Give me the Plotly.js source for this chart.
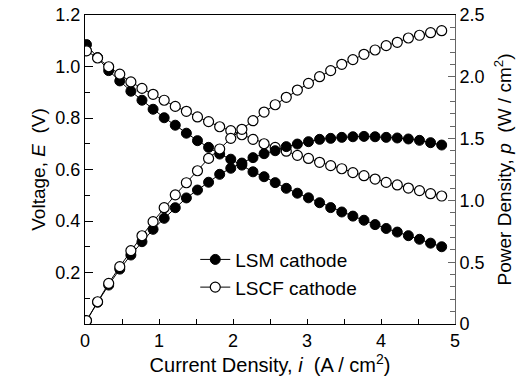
<!DOCTYPE html>
<html>
<head>
<meta charset="utf-8">
<script src="https://cdn.plot.ly/plotly-3.0.1.min.js"></script>
<style>html,body{margin:0;padding:0;background:#fff;}#chart{width:531px;height:384px;}</style>
</head>
<body>
<div id="chart"></div>
<script>
var current = [0.02,0.17,0.32,0.47,0.62,0.77,0.92,1.07,1.22,1.37,1.52,1.67,1.82,1.97,2.12,2.27,2.42,2.57,2.72,2.87,3.02,3.17,3.32,3.47,3.62,3.77,3.92,4.07,4.22,4.37,4.52,4.67,4.82];
var lsmVoltage = [1.085,1.035,0.984,0.944,0.904,0.869,0.834,0.801,0.772,0.741,0.712,0.686,0.660,0.640,0.617,0.591,0.572,0.549,0.527,0.508,0.490,0.471,0.452,0.435,0.419,0.403,0.386,0.371,0.357,0.343,0.329,0.314,0.300];
var lscfVoltage = [1.061,1.033,0.999,0.970,0.940,0.915,0.892,0.869,0.845,0.826,0.804,0.786,0.766,0.751,0.735,0.717,0.700,0.686,0.671,0.655,0.643,0.628,0.615,0.603,0.588,0.576,0.563,0.550,0.540,0.528,0.518,0.506,0.497];
var lsmPower = [0.025,0.176,0.315,0.444,0.558,0.666,0.766,0.855,0.941,1.020,1.084,1.147,1.211,1.260,1.302,1.346,1.378,1.402,1.435,1.456,1.475,1.494,1.502,1.510,1.515,1.518,1.515,1.510,1.505,1.497,1.486,1.467,1.448];
var lscfPower = [0.028,0.180,0.329,0.464,0.593,0.714,0.828,0.941,1.045,1.143,1.240,1.340,1.416,1.502,1.575,1.645,1.715,1.774,1.834,1.893,1.947,2.001,2.050,2.101,2.139,2.182,2.217,2.252,2.279,2.314,2.336,2.357,2.373];
var seriesNames = ["LSM cathode", "LSCF cathode"];
var xTickVals = [0,1,2,3,4,5];
var yTickVals = [0.2,0.4,0.6,0.8,1.0,1.2];
var yTickText = ["0.2","0.4","0.6","0.8","1.0","1.2"];
var y2TickVals = [0,0.5,1.0,1.5,2.0,2.5];
var y2TickText = ["0","0.5","1.0","1.5","2.0","2.5"];

var FONT = "Arial, 'Liberation Sans', sans-serif";
var filled = {symbol:"circle", size:10, color:"#000", line:{color:"#000", width:1}};
var hollow = {symbol:"circle", size:10, color:"#fff", line:{color:"#000", width:1.2}};

var traces = [
  {x:current, y:lsmPower, yaxis:"y2", mode:"lines+markers", name:seriesNames[0], legendgroup:"a", showlegend:false,
   line:{color:"#000", width:1}, marker:filled},
  {x:current, y:lsmVoltage, mode:"lines+markers", name:seriesNames[0], legendgroup:"a",
   line:{color:"#000", width:1}, marker:filled},
  {x:current, y:lscfPower, yaxis:"y2", mode:"lines+markers", name:seriesNames[1], legendgroup:"b", showlegend:false,
   line:{color:"#000", width:1}, marker:hollow},
  {x:current, y:lscfVoltage, mode:"lines+markers", name:seriesNames[1], legendgroup:"b",
   line:{color:"#000", width:1}, marker:hollow}
];

var layout = {
  width:531, height:384,
  margin:{l:84.5, r:76.3, t:15, b:60},
  paper_bgcolor:"#fff", plot_bgcolor:"#fff",
  font:{family:FONT, size:18, color:"#000"},
  showlegend:true,
  legend:{x:0.298, y:0.27, xanchor:"left", yanchor:"top", bgcolor:"rgba(0,0,0,0)",
          font:{family:FONT, size:19, color:"#000"}, tracegroupgap:0, itemwidth:30},
  xaxis:{range:[0,5], showgrid:false, zeroline:false, showline:true, linecolor:"#000", linewidth:1,
         mirror:true, ticks:"inside", ticklen:5, tickcolor:"#000", tickvals:xTickVals,
         minor:{dtick:0.5, ticks:"inside", ticklen:5, tickcolor:"#000", showgrid:false},
         tickfont:{size:18}, title:{text:"Current Density, <i>i</i>  (A / cm<sup>2</sup>)", font:{size:20}, standoff:8}},
  yaxis:{range:[0,1.2], showgrid:false, zeroline:false, showline:true, linecolor:"#000", linewidth:1,
         ticks:"inside", ticklen:8, tickcolor:"#000", tickvals:yTickVals, ticktext:yTickText,
         minor:{dtick:0.1, ticks:"inside", ticklen:5, tickcolor:"#000", showgrid:false},
         tickfont:{size:18}, title:{text:"Voltage, <i>E</i>  (V)", font:{size:19}, standoff:4}},
  yaxis2:{range:[0,2.5], overlaying:"y", side:"right", showgrid:false, zeroline:false, showline:true,
          linecolor:"#666", linewidth:1, ticks:"inside", ticklen:7, tickcolor:"#666",
          tickvals:y2TickVals, ticktext:y2TickText,
          minor:{dtick:0.1, ticks:"inside", ticklen:5, tickcolor:"#666", showgrid:false},
          tickfont:{size:18}, title:{text:"Power Density, <i>p</i>  (W / cm<sup>2</sup>)", font:{size:19}, standoff:14}}
};

Plotly.newPlot("chart", traces, layout, {displayModeBar:false, staticPlot:true});
</script>
</body>
</html>
